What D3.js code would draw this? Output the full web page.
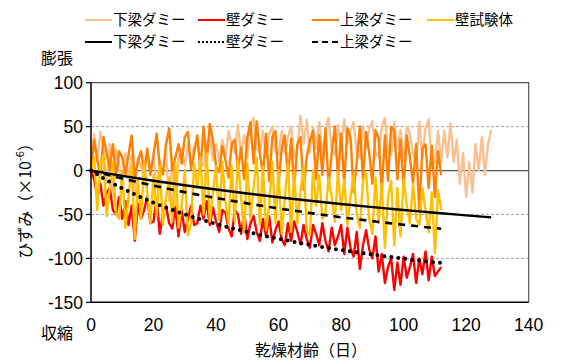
<!DOCTYPE html>
<html>
<head>
<meta charset="utf-8">
<script src="https://cdn.jsdelivr.net/npm/d3@7"></script>
<style>
  body { margin: 0; background: #fff; }
  svg { display: block; font-family: "Liberation Sans", Arial, "Noto Sans CJK JP", sans-serif; }
  .jp { font-family: "Noto Sans CJK JP", sans-serif; }
</style>
</head>
<body>
<svg id="chart" width="567" height="360"></svg>
<script>
// measured strain, one reading per day starting at day 0
const shimoDummy = [0, 42, 10, 44, 25, -15, 30, -30, 25, 5, -20, 20, -10, 18, -25, 15, 5, -10, 20, 0,
  15, -20, 12, -5, 20, -35, 10, -45, 15, 25, 5, 30, 8, 28, 35, 10, 5, 30, 40, 12,
  30, 10, 35, 15, 45, 30, 20, 52, 18, 40, 15, 48, 60, 25, 20, 45, 15, 42, 50, 22,
  18, 45, 20, 38, 50, 15, 25, 62, 30, 58, 20, 50, 25, 55, 15, 48, 60, 22, 18, 52,
  25, 58, 30, 45, 55, 20, 15, 50, 25, 48, 56, 20, 15, 50, 60, 22, 18, 55, 25, 46,
  12, 50, 42, 20, 10, 55, 15, 48, 58, 5, 10, 45, 10, 45, 15, 54, 10, 35, -15, 20,
  -30, 10, -25, 30, 0, 38, -5, 30, 46];
const kabeDummy = [0, -10, -30, -15, -40, -25, -20, -45, -50, -30, -55, -35, -62, -40, -80, -38, -55, -45, -30, -60,
  -58, -32, -72, -50, -40, -60, -66, -42, -75, -45, -70, -55, -40, -62, -60, -40, -55, -35, -62, -42,
  -58, -70, -45, -48, -66, -75, -45, -50, -72, -48, -78, -60, -52, -70, -80, -55, -75, -52, -82, -68,
  -58, -78, -85, -60, -80, -58, -70, -84, -62, -78, -88, -62, -72, -85, -60, -80, -92, -65, -85, -75,
  -62, -95, -65, -88, -98, -70, -112, -85, -68, -90, -100, -75, -115, -95, -128, -110, -100, -136, -105, -130,
  -98, -122, -110, -95, -128, -100, -118, -92, -125, -98, -120, -115, -110];
const kamiDummy = [0, 35, 12, -5, 38, 20, 2, 30, -8, 22, 15, -5, 18, 40, -8, 10, 22, 0, 25, -5,
  18, 42, 5, -4, 30, 48, 0, 15, 30, 8, 38, 44, 2, 20, 40, 0, 50, 10, 53, 35,
  5, -2, 28, 12, -8, 30, 35, 0, 26, -10, 38, 55, 8, 56, 20, -5, 42, -12, 38, 45,
  -15, 25, 40, -10, 36, -20, 30, 38, -22, 15, 34, 45, -10, 40, -5, 48, -18, 20, 50, -8,
  42, -15, 48, 38, -25, 10, 50, -10, 44, 20, -15, 46, 36, -25, 40, -12, 50, 45, -10, 35,
  -22, 40, 15, -15, 30, -45, 25, 30, -20, 28, -30, 22, -5];
const kabeSpecimen = [0, 15, -45, 5, 18, -52, -20, 10, -50, -55, 0, -65, -30, 5, -78, -10, -55, 8, -25, -60,
  -5, -52, 5, -62, -30, -8, -58, 10, -65, -40, 0, -74, -60, 8, -20, 15, -50, 20, -58, -25,
  5, -55, 10, -35, -62, 5, -58, 12, -30, -70, 8, -55, -20, 15, -62, 5, -68, -40, 10, -60,
  0, -72, -30, 8, -70, -2, -60, -25, 5, -68, -74, 0, -40, -5, -55, -48, -8, -30, -58, -2,
  -45, -10, -62, -30, -5, -50, -65, -12, -3, -55, -72, -8, -60, -15, -88, -30, -12, -85, -20, -75,
  -10, -40, -60, -15, -55, -62, -20, -45, -70, -25, -94, -22, -45];

// fitted curves (day, strain)
const fitShimoDays = [0, 10, 20, 30, 40, 50, 60, 70, 80, 90, 100, 110, 120, 128];
const fitShimo = [0, -6.0, -11.6, -16.8, -21.6, -26.1, -30.4, -34.4, -38.1, -41.6, -44.9, -48.1, -51.0, -53.3];
const fitKabeDays = [0, 5, 10, 15, 20, 30, 40, 50, 60, 70, 80, 90, 100, 110, 112];
const fitKabe = [0, -10.8, -20.4, -28.9, -36.6, -49.8, -60.7, -69.9, -77.7, -84.5, -90.4, -95.7, -100.3, -104.5, -105.2];
const fitKamiDays = [0, 10, 20, 30, 40, 50, 60, 70, 80, 90, 100, 110, 112];
const fitKami = [0, -9.0, -17.2, -24.6, -31.3, -37.4, -43.1, -48.3, -53.2, -57.6, -61.7, -65.5, -66.2];

const xTicks = [0, 20, 40, 60, 80, 100, 120, 140];
const yTicks = [-150, -100, -50, 0, 50, 100];
const gridValues = [50, -50, -100];

const svg = d3.select("#chart");
const x = d3.scaleLinear().domain([0, 140]).range([91, 528.7]);
const y = d3.scaleLinear().domain([-150, 100]).range([302.3, 82.7]);

// gridlines
svg.append("g").selectAll("line").data(gridValues).join("line")
  .attr("x1", x(0)).attr("x2", x(140))
  .attr("y1", d => y(d)).attr("y2", d => y(d))
  .attr("stroke", "#a0a0a0").attr("stroke-width", 1).attr("stroke-dasharray", "3,2");
svg.append("line")
  .attr("x1", x(0)).attr("x2", x(140)).attr("y1", y(0)).attr("y2", y(0))
  .attr("stroke", "#555").attr("stroke-width", 1.2);

const daily = d3.line().x((d, i) => x(i)).y(d => y(d));
const series = [
  { data: shimoDummy, color: "#FAC090" },
  { data: kabeDummy, color: "#FF0000" },
  { data: kamiDummy, color: "#FF7F00" },
  { data: kabeSpecimen, color: "#FFC000" }
];
svg.append("g").selectAll("path").data(series).join("path")
  .attr("d", d => daily(d.data))
  .attr("fill", "none").attr("stroke", d => d.color)
  .attr("stroke-width", 2.4).attr("stroke-linejoin", "round");

// fit lines
const fits = [
  { days: fitShimoDays, vals: fitShimo, dash: null, w: 2.4 },
  { days: fitKabeDays, vals: fitKabe, dash: "0,7", w: 4 },
  { days: fitKamiDays, vals: fitKami, dash: "7,6", w: 2.6 }
];
const fitLine = d3.line().curve(d3.curveMonotoneX);
svg.append("g").selectAll("path").data(fits).join("path")
  .attr("d", d => fitLine(d.days.map((t, i) => [x(t), y(d.vals[i])])))
  .attr("fill", "none").attr("stroke", "#000")
  .attr("stroke-width", d => d.w)
  .attr("stroke-dasharray", d => d.dash)
  .attr("stroke-linecap", d => d.dash === "0,7" ? "round" : "butt");

// frame
svg.append("path")
  .attr("d", `M${x(0)},${y(100)}H${x(140)}V${y(-150)}`)
  .attr("fill", "none").attr("stroke", "#555").attr("stroke-width", 1.2);
svg.append("path")
  .attr("d", `M${x(0)},${y(100)}V${y(-150)}H${x(140)}`)
  .attr("fill", "none").attr("stroke", "#000").attr("stroke-width", 1.5);

// y ticks
svg.append("g").selectAll("line").data(yTicks).join("line")
  .attr("x1", x(0) - 5).attr("x2", x(0)).attr("y1", d => y(d)).attr("y2", d => y(d))
  .attr("stroke", "#000").attr("stroke-width", 1.2);
svg.append("g").selectAll("text").data(yTicks).join("text")
  .attr("x", 83).attr("y", d => y(d)).attr("dy", "0.36em")
  .attr("text-anchor", "end").attr("font-size", 17.5).text(d => d);
svg.append("g").selectAll("text").data(xTicks).join("text")
  .attr("x", d => x(d)).attr("y", 325).attr("dy", "0.36em")
  .attr("text-anchor", "middle").attr("font-size", 17.5).text(d => d);

// axis titles
svg.append("text").attr("class", "jp")
  .attr("x", 311).attr("y", 350).attr("dy", "0.36em")
  .attr("text-anchor", "middle").attr("font-size", 16).text("乾燥材齢（日）");
svg.append("text").attr("class", "jp").attr("x", 41).attr("y", 58).attr("dy", "0.36em")
  .attr("font-size", 16).text("膨張");
svg.append("text").attr("class", "jp").attr("x", 41).attr("y", 333).attr("dy", "0.36em")
  .attr("font-size", 16).text("収縮");
const yTitle = svg.append("text").attr("class", "jp")
  .attr("transform", "translate(25,197) rotate(-90)")
  .attr("text-anchor", "middle").attr("dy", "0.36em").attr("font-size", 16);
yTitle.append("tspan").text("ひずみ（×10");
yTitle.append("tspan").attr("font-size", 11).attr("dy", "-0.6em").text("-6");
yTitle.append("tspan").attr("dy", "0.42em").text("）");

// legend
const legendItems = [
  { label: "下梁ダミー", color: "#FAC090", dash: null, row: 0, col: 0 },
  { label: "壁ダミー", color: "#FF0000", dash: null, row: 0, col: 1 },
  { label: "上梁ダミー", color: "#FF7F00", dash: null, row: 0, col: 2 },
  { label: "壁試験体", color: "#FFC000", dash: null, row: 0, col: 3 },
  { label: "下梁ダミー", color: "#000", dash: null, row: 1, col: 0 },
  { label: "壁ダミー", color: "#000", dash: "2,2", row: 1, col: 1 },
  { label: "上梁ダミー", color: "#000", dash: "6,4", row: 1, col: 2 }
];
const colX = [85, 198, 312, 427];
const rowY = [20, 42];
const lg = svg.append("g").selectAll("g").data(legendItems).join("g")
  .attr("transform", d => `translate(${colX[d.col]},${rowY[d.row]})`);
lg.append("line").attr("x1", 0).attr("x2", 27).attr("y1", 0).attr("y2", 0)
  .attr("stroke", d => d.color).attr("stroke-width", 2)
  .attr("stroke-dasharray", d => d.dash);
lg.append("text").attr("class", "jp").attr("x", 28).attr("dy", "0.36em")
  .attr("font-size", 14.5).text(d => d.label);
</script>
</body>
</html>
